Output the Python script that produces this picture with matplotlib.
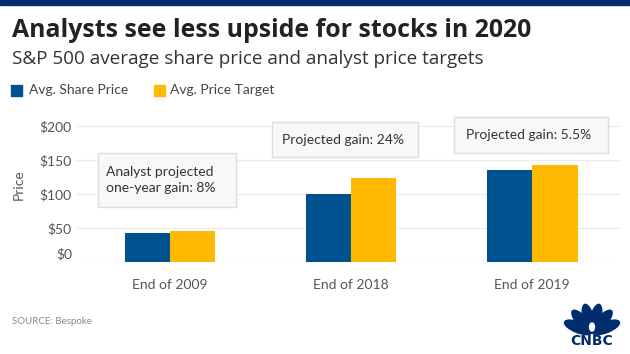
import numpy as np
import matplotlib.pyplot as plt
from matplotlib.patches import Rectangle, Ellipse
from matplotlib.transforms import ScaledTranslation

plt.rcParams['font.family'] = ['Lato', 'DejaVu Sans']

categories = ['End of 2009', 'End of 2018', 'End of 2019']
share_price = [42, 100, 136]
price_target = [45, 124, 143.5]
series_names = ['Avg. Share Price', 'Avg. Price Target']
yticks = [0, 50, 100, 150, 200]
ytick_labels = ['$0', '$50', '$100', '$150', '$200']
notes = ['Analyst projected\none-year gain: 8%', 'Projected gain: 24%', 'Projected gain: 5.5%']

BLUE = '#00538f'
YELLOW = '#ffb900'
NAVY = '#002d6b'
W, H = 630, 354

fig = plt.figure(figsize=(6.3, 3.54), dpi=100)

def fx(px):
    return px / W

def fy(py):
    return 1 - py / H

# navy strip on top
fig.patches.append(Rectangle((0, fy(5)), 1, 5 / H, transform=fig.transFigure,
                             color=NAVY, zorder=0))

fig.text(fx(12), fy(37), 'Analysts see less upside for stocks in 2020',
         fontsize=17.9, fontweight='bold', color='#222222', va='baseline',
         family=['Open Sans', 'DejaVu Sans'])
fig.text(fx(12), fy(64), 'S&P 500 average share price and analyst price targets',
         fontsize=13.6, color='#333333', va='baseline',
         family=['Open Sans', 'DejaVu Sans'])

# legend
for sx, tx, name, c in [(11, 29, series_names[0], BLUE), (154, 170, series_names[1], YELLOW)]:
    fig.patches.append(Rectangle((fx(sx), fy(96)), 11 / W, 11 / H,
                                 transform=fig.transFigure, color=c))
    fig.text(fx(tx), fy(90.5), name, fontsize=10, color='#444444', va='center')

ax = fig.add_axes([fx(76), fy(262), fx(621) - fx(76), (262 - 116) / H])
x = np.arange(len(categories))
bw = 0.25
ax.bar(x - bw / 2, share_price, bw, color=BLUE, zorder=3)
ax.bar(x + bw / 2, price_target, bw, color=YELLOW, zorder=3)

ax.set_xlim(-0.52, 2.49)
ax.set_ylim(0, 215)
ax.set_yticks(yticks)
ax.set_yticklabels(ytick_labels)
ax.set_xticks(x)
ax.set_xticklabels(categories)
ax.tick_params(length=0, labelsize=10, labelcolor='#555555')
ax.tick_params(axis='x', pad=12)
ax.tick_params(axis='y', pad=3)
ax.yaxis.grid(True, color='#ececec', linewidth=0.8, zorder=0)
for s in ax.spines.values():
    s.set_visible(False)
lab0 = ax.get_yticklabels()[0]
lab0.set_transform(lab0.get_transform() + ScaledTranslation(0, 9 / 100, fig.dpi_scale_trans))

ax.set_ylabel('Price', fontsize=10, color='#555555')
ax.yaxis.set_label_coords((25 - 76) / 545, (262 - 185) / 146)

# annotation boxes (pixel layout)
boxes = [(98, 153, 236, 207, 106, 180), (272, 122, 418, 157, 282, 139.5),
         (454, 117, 608, 153, 466, 135)]
for (x0, y0, x1, y1, tx, ty), note in zip(boxes, notes):
    fig.patches.append(Rectangle((fx(x0), fy(y1)), (x1 - x0) / W, (y1 - y0) / H,
                                 transform=fig.transFigure, facecolor='#f8f8f8',
                                 edgecolor='#dddddd', linewidth=1, zorder=5))
    fig.text(fx(tx), fy(ty), note, fontsize=10, color='#333333', va='center',
             linespacing=1.45, zorder=6)

fig.text(fx(12), fy(321), 'SOURCE: Bespoke', fontsize=7, color='#888888', va='center')

# CNBC peacock mark, drawn in a small pixel-unit axes
lax = fig.add_axes([fx(560), fy(350), 64 / W, 56 / H])
lax.set_xlim(560, 624)
lax.set_ylim(350, 294)
lax.axis('off')
for ang in [-68, -41, -14, 14, 41, 68]:
    r = np.deg2rad(ang)
    ex = 592 + np.sin(r) * 15
    ey = 333 - np.cos(r) * 15
    lax.add_patch(Ellipse((ex, ey), 10.5, 29, angle=ang, color=NAVY))
lax.add_patch(Ellipse((592, 327), 5, 8, color='white'))
lax.text(592, 341, 'CNBC', fontsize=10, fontweight='black', color=NAVY,
         ha='center', va='center', family=['DejaVu Sans'])

fig.savefig('out.png', dpi=100)
